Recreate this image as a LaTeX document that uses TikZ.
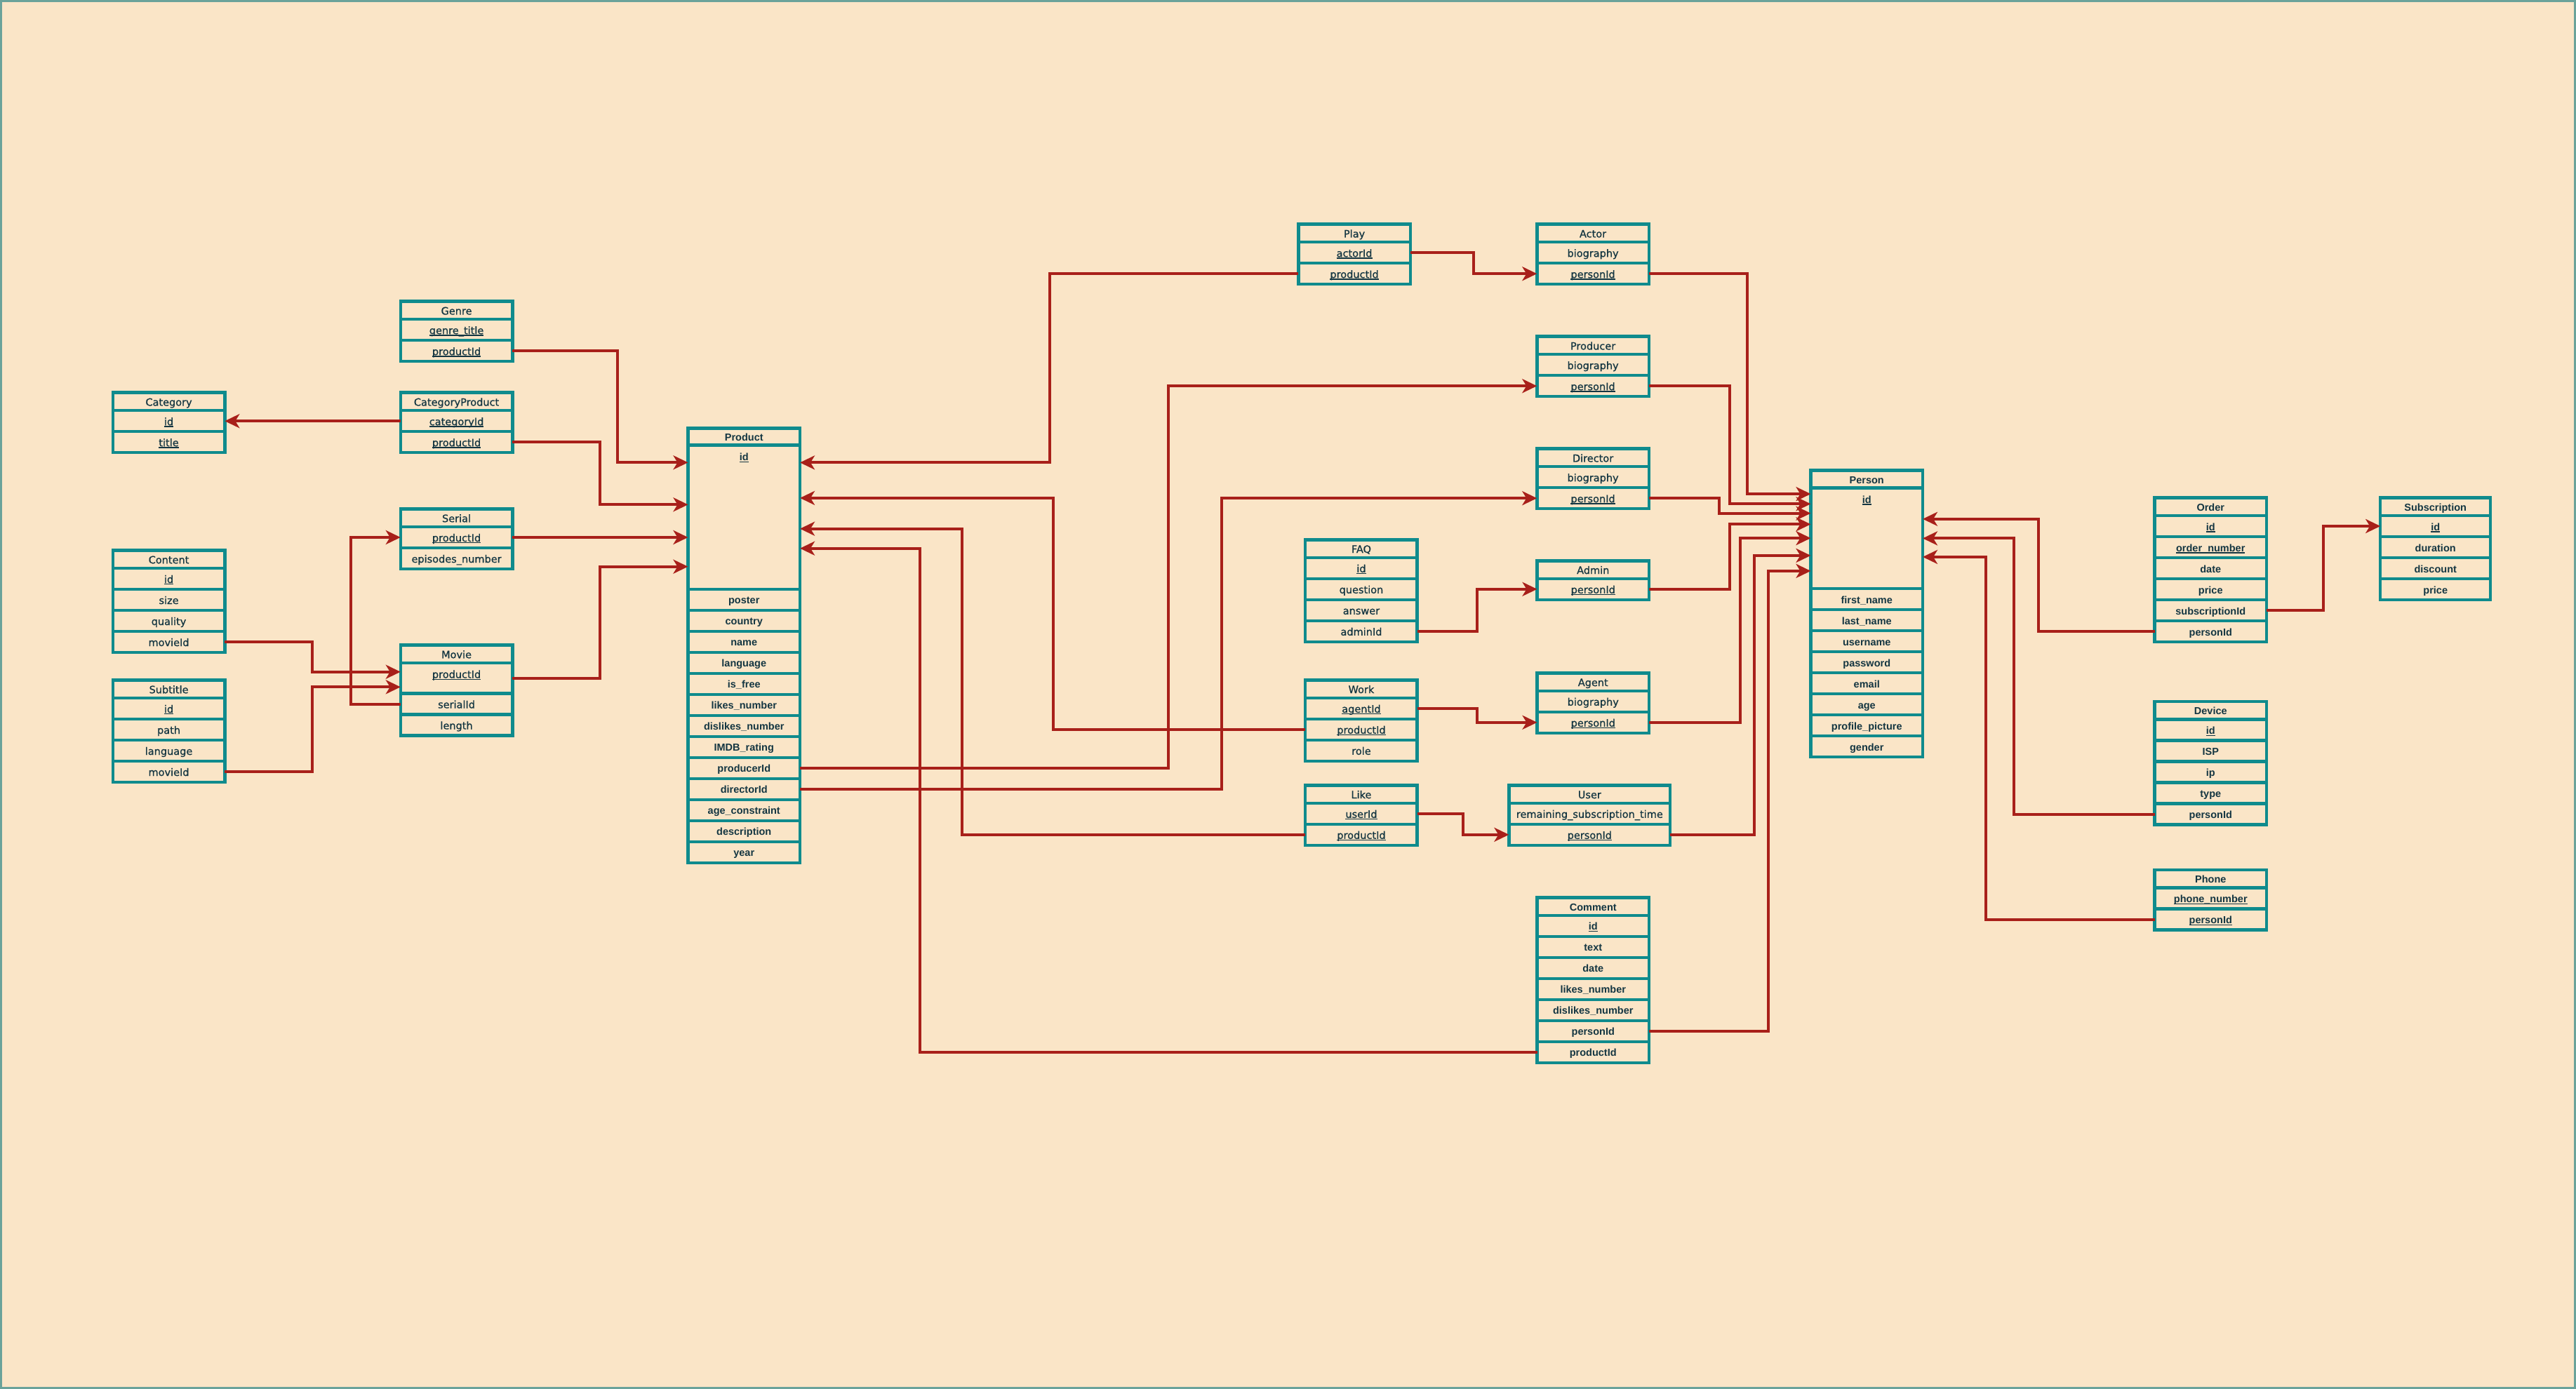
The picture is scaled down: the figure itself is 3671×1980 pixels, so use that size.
\documentclass[tikz,border=0pt]{standalone}
\usepackage{fontspec}
\newfontfamily\djv[FakeBold=0.8]{DejaVu Sans}
\newfontfamily\lib{Liberation Sans}
\usetikzlibrary{arrows.meta}
\definecolor{erbg}{HTML}{FAE5C7}
\definecolor{erteal}{HTML}{0F8B8D}
\definecolor{erred}{HTML}{A8201A}
\definecolor{ertext}{HTML}{143642}
\definecolor{erframe}{HTML}{6AA39A}
\newbox\erulbox
\newcommand\erul[1]{\setbox\erulbox\hbox{#1}\rlap{\rule[-2.4pt]{\wd\erulbox}{1.3pt}}\box\erulbox}
\def\tabw{159.5pt}
\tikzset{
 cell/.style={draw=erteal, line width=4.5pt, fill=erbg, inner sep=0pt, outer sep=0pt, anchor=north west, text=ertext, minimum width=\tabw},
 hd/.style={cell, minimum height=25.5pt},
 rw/.style={cell, minimum height=30pt},
 lbl/.style={inner sep=0pt, outer sep=0pt, text=ertext},
 fA/.style={every node/.append style={font=\fontsize{14.5}{17}\djv, text height=12pt, text depth=0pt}},
 fB/.style={every node/.append style={font=\fontsize{14.5}{17}\lib\bfseries, text height=12.3pt, text depth=0pt}},
 conn/.style={draw=erred, line width=4pt, line join=miter},
 arr/.style={conn, -{Stealth[length=21pt,width=20pt,inset=6pt]}},
}
\begin{document}
\begin{tikzpicture}[x=1pt,y=-1pt]
\useasboundingbox (0,0) rectangle (3671,1980);
\fill[erbg] (0,0) rectangle (3671,1980);
\draw[erframe, line width=3pt] (1.5,1.5) rectangle (3669.5,1978.5);

% ---------- left group ----------
\begin{scope}[fA]
\node[hd] (category) at (160.8,559.7) {Category};
\node[rw] (category-id) at (category.south west) {\erul{id}};
\node[rw] (category-title) at (category-id.south west) {\erul{title}};

\node[hd] (genre) at (570.8,429.7) {Genre};
\node[rw] (genre-gtitle) at (genre.south west) {\erul{genre\_title}};
\node[rw] (genre-pid) at (genre-gtitle.south west) {\erul{productId}};

\node[hd] (cp) at (570.8,559.7) {CategoryProduct};
\node[rw] (cp-cid) at (cp.south west) {\erul{categoryId}};
\node[rw] (cp-pid) at (cp-cid.south west) {\erul{productId}};

\node[hd] (serial) at (570.8,725.5) {Serial};
\node[rw] (serial-pid) at (serial.south west) {\erul{productId}};
\node[rw] (serial-ep) at (serial-pid.south west) {episodes\_number};

\node[hd] (content) at (160.8,784.5) {Content};
\node[rw] (content-id) at (content.south west) {\erul{id}};
\node[rw] (content-size) at (content-id.south west) {size};
\node[rw] (content-quality) at (content-size.south west) {quality};
\node[rw] (content-mid) at (content-quality.south west) {movieId};

\node[hd] (subtitle) at (160.8,969.5) {Subtitle};
\node[rw] (subtitle-id) at (subtitle.south west) {\erul{id}};
\node[rw] (subtitle-path) at (subtitle-id.south west) {path};
\node[rw] (subtitle-lang) at (subtitle-path.south west) {language};
\node[rw] (subtitle-mid) at (subtitle-lang.south west) {movieId};

\node[hd] (movie) at (570.8,919.5) {Movie};
\node[cell, minimum height=43.5pt] (movie-pid) at (movie.south west) {};
\node[lbl] (movie-pidtxt) at ([yshift=-15.5pt]movie-pid.north) {\erul{productId}};
\node[rw] (movie-sid) at (movie-pid.south west) {serialId};
\node[rw] (movie-len) at (movie-sid.south west) {length};
\end{scope}

% ---------- Product ----------
\begin{scope}[fB]
\node[hd, minimum height=24.3pt] (product) at (980.5,610.3) {Product};
\node[cell, minimum height=205.2pt] (product-id) at (product.south west) {};
\node[lbl] (product-idtxt) at ([yshift=-16pt]product-id.north) {\erul{id}};
\node[rw] (product-poster) at (product-id.south west) {poster};
\node[rw] (product-country) at (product-poster.south west) {country};
\node[rw] (product-name) at (product-country.south west) {name};
\node[rw] (product-lang) at (product-name.south west) {language};
\node[rw] (product-free) at (product-lang.south west) {is\_free};
\node[rw] (product-likes) at (product-free.south west) {likes\_number};
\node[rw] (product-dislikes) at (product-likes.south west) {dislikes\_number};
\node[rw] (product-imdb) at (product-dislikes.south west) {IMDB\_rating};
\node[rw] (product-producer) at (product-imdb.south west) {producerId};
\node[rw] (product-director) at (product-producer.south west) {directorId};
\node[rw] (product-age) at (product-director.south west) {age\_constraint};
\node[rw] (product-desc) at (product-age.south west) {description};
\node[rw] (product-year) at (product-desc.south west) {year};
\end{scope}

% ---------- middle group ----------
\begin{scope}[fA]
\node[hd] (play) at (1850.3,319.7) {Play};
\node[rw] (play-aid) at (play.south west) {\erul{actorId}};
\node[rw] (play-pid) at (play-aid.south west) {\erul{productId}};

\node[hd] (actor) at (2190.3,319.7) {Actor};
\node[rw] (actor-bio) at (actor.south west) {biography};
\node[rw] (actor-pid) at (actor-bio.south west) {\erul{personId}};

\node[hd] (producer) at (2190.3,479.7) {Producer};
\node[rw] (producer-bio) at (producer.south west) {biography};
\node[rw] (producer-pid) at (producer-bio.south west) {\erul{personId}};

\node[hd] (director) at (2190.3,639.7) {Director};
\node[rw] (director-bio) at (director.south west) {biography};
\node[rw] (director-pid) at (director-bio.south west) {\erul{personId}};

\node[hd] (faq) at (1860.2,769.3) {FAQ};
\node[rw] (faq-id) at (faq.south west) {\erul{id}};
\node[rw] (faq-q) at (faq-id.south west) {question};
\node[rw] (faq-a) at (faq-q.south west) {answer};
\node[rw] (faq-aid) at (faq-a.south west) {adminId};

\node[hd] (admin) at (2190.5,799.3) {Admin};
\node[rw] (admin-pid) at (admin.south west) {\erul{personId}};

\node[hd] (work) at (1860.2,969.3) {Work};
\node[rw] (work-aid) at (work.south west) {\erul{agentId}};
\node[rw] (work-pid) at (work-aid.south west) {\erul{productId}};
\node[rw] (work-role) at (work-pid.south west) {role};

\node[hd] (agent) at (2190.5,959.3) {Agent};
\node[rw] (agent-bio) at (agent.south west) {biography};
\node[rw] (agent-pid) at (agent-bio.south west) {\erul{personId}};

\node[hd] (like) at (1860.2,1119.3) {Like};
\node[rw] (like-uid) at (like.south west) {\erul{userId}};
\node[rw] (like-pid) at (like-uid.south west) {\erul{productId}};
\end{scope}

\begin{scope}[fA]
\def\tabw{229.8pt}
\node[hd] (user) at (2150.4,1119.3) {User};
\node[rw] (user-rst) at (user.south west) {remaining\_subscription\_time};
\node[rw] (user-pid) at (user-rst.south west) {\erul{personId}};
\end{scope}

% ---------- Comment, Person, right group ----------
\begin{scope}[fB]
\node[hd] (comment) at (2190.5,1279.3) {Comment};
\node[rw] (comment-id) at (comment.south west) {\erul{id}};
\node[rw] (comment-text) at (comment-id.south west) {text};
\node[rw] (comment-date) at (comment-text.south west) {date};
\node[rw] (comment-likes) at (comment-date.south west) {likes\_number};
\node[rw] (comment-dislikes) at (comment-likes.south west) {dislikes\_number};
\node[rw] (comment-pid) at (comment-dislikes.south west) {personId};
\node[rw] (comment-prid) at (comment-pid.south west) {productId};

\node[hd, minimum height=25pt] (person) at (2580.5,670.5) {Person};
\node[cell, minimum height=143.7pt] (person-id) at (person.south west) {};
\node[lbl] (person-idtxt) at ([yshift=-15.5pt]person-id.north) {\erul{id}};
\node[rw] (person-fn) at (person-id.south west) {first\_name};
\node[rw] (person-ln) at (person-fn.south west) {last\_name};
\node[rw] (person-un) at (person-ln.south west) {username};
\node[rw] (person-pw) at (person-un.south west) {password};
\node[rw] (person-email) at (person-pw.south west) {email};
\node[rw] (person-age) at (person-email.south west) {age};
\node[rw] (person-pic) at (person-age.south west) {profile\_picture};
\node[rw] (person-gender) at (person-pic.south west) {gender};

\node[hd] (order) at (3070.5,709.5) {Order};
\node[rw] (order-id) at (order.south west) {\erul{id}};
\node[rw] (order-num) at (order-id.south west) {\erul{order\_number}};
\node[rw] (order-date) at (order-num.south west) {date};
\node[rw] (order-price) at (order-date.south west) {price};
\node[rw] (order-sid) at (order-price.south west) {subscriptionId};
\node[rw] (order-pid) at (order-sid.south west) {personId};

\node[hd] (device) at (3070.5,1000) {Device};
\node[rw] (device-id) at (device.south west) {\erul{id}};
\node[rw] (device-isp) at (device-id.south west) {ISP};
\node[rw] (device-ip) at (device-isp.south west) {ip};
\node[rw] (device-type) at (device-ip.south west) {type};
\node[rw] (device-pid) at (device-type.south west) {personId};

\node[hd] (phone) at (3070.5,1240) {Phone};
\node[rw] (phone-num) at (phone.south west) {\erul{phone\_number}};
\node[rw] (phone-pid) at (phone-num.south west) {\erul{personId}};
\end{scope}

\begin{scope}[fB]
\def\tabw{157pt}
\node[hd] (sub) at (3392.2,709.5) {Subscription};
\node[rw] (sub-id) at (sub.south west) {\erul{id}};
\node[rw] (sub-dur) at (sub-id.south west) {duration};
\node[rw] (sub-disc) at (sub-dur.south west) {discount};
\node[rw] (sub-price) at (sub-disc.south west) {price};
\end{scope}

% ---------- connectors ----------
\draw[arr] (cp-cid.west) -- (category-id.east);
\coordinate (k2) at (880.3,659.3);
\draw[arr] (genre-pid.east) -| (k2) -- (product-id.west |- k2);
\coordinate (k3) at (855.3,719.3);
\draw[arr] (cp-pid.east) -| (k3) -- (product-id.west |- k3);
\draw[arr] (serial-pid.east) -- (serial-pid.east -| product-id.west);
\coordinate (k5) at (855.3,807.7);
\draw[arr] (movie-pid.east) -| (k5) -- (product-id.west |- k5);
\coordinate (k6) at (445.3,957.7);
\draw[arr] (content-mid.east) -| (k6) -- (movie-pid.west |- k6);
\coordinate (k7) at (445.3,979.3);
\draw[arr] (subtitle-mid.east) -| (k7) -- (movie-pid.west |- k7);
\coordinate (k8) at (500,900);
\draw[arr] (movie-sid.west) -| (k8) |- (serial-pid.west);

\coordinate (k9) at (1495.7,659.4);
\draw[arr] (play-pid.west) -| (k9) -- (product-id.east |- k9);
\coordinate (k10) at (1500.5,709.9);
\draw[arr] (work-pid.west) -| (k10) -- (product-id.east |- k10);
\coordinate (k11) at (1370.7,753.7);
\draw[arr] (like-pid.west) -| (k11) -- (product-id.east |- k11);
\coordinate (k12) at (1310.7,781.7);
\draw[arr] (comment-prid.west) -| (k12) -- (product-id.east |- k12);
\coordinate (k13) at (1665.2,800);
\draw[arr] (product-producer.east) -| (k13) |- (producer-pid.west);
\coordinate (k14) at (1740.7,900);
\draw[arr] (product-director.east) -| (k14) |- (director-pid.west);
\coordinate (k15) at (2100,375);
\draw[arr] (play-aid.east) -| (k15) |- (actor-pid.west);
\coordinate (k16) at (2105,870);
\draw[arr] (faq-aid.east) -| (k16) |- (admin-pid.west);
\coordinate (k17) at (2105,1020);
\draw[arr] (work-aid.east) -| (k17) |- (agent-pid.west);
\coordinate (k18) at (2085.4,1175);
\draw[arr] (like-uid.east) -| (k18) |- (user-pid.west);

\coordinate (k19) at (2490.3,704.1);
\draw[arr] (actor-pid.east) -| (k19) -- (person-id.west |- k19);
\coordinate (k20) at (2465.3,718.3);
\draw[arr] (producer-pid.east) -| (k20) -- (person-id.west |- k20);
\coordinate (k21) at (2450.3,731.7);
\draw[arr] (director-pid.east) -| (k21) -- (person-id.west |- k21);
\coordinate (k22) at (2465.3,747.3);
\draw[arr] (admin-pid.east) -| (k22) -- (person-id.west |- k22);
\coordinate (k23) at (2480.3,767.1);
\draw[arr] (agent-pid.east) -| (k23) -- (person-id.west |- k23);
\coordinate (k24) at (2500.3,791.9);
\draw[arr] (user-pid.east) -| (k24) -- (person-id.west |- k24);
\coordinate (k25) at (2520.3,813.9);
\draw[arr] (comment-pid.east) -| (k25) -- (person-id.west |- k25);

\coordinate (k26) at (2905.3,739.8);
\draw[arr] (order-pid.west) -| (k26) -- (person-id.east |- k26);
\coordinate (k27) at (2870.3,767.4);
\draw[arr] (device-pid.west) -| (k27) -- (person-id.east |- k27);
\coordinate (k28) at (2830.3,793.9);
\draw[arr] (phone-pid.west) -| (k28) -- (person-id.east |- k28);
\coordinate (k29) at (3310.7,800);
\draw[arr] (order-sid.east) -| (k29) |- (sub-id.west);
\end{tikzpicture}
\end{document}
